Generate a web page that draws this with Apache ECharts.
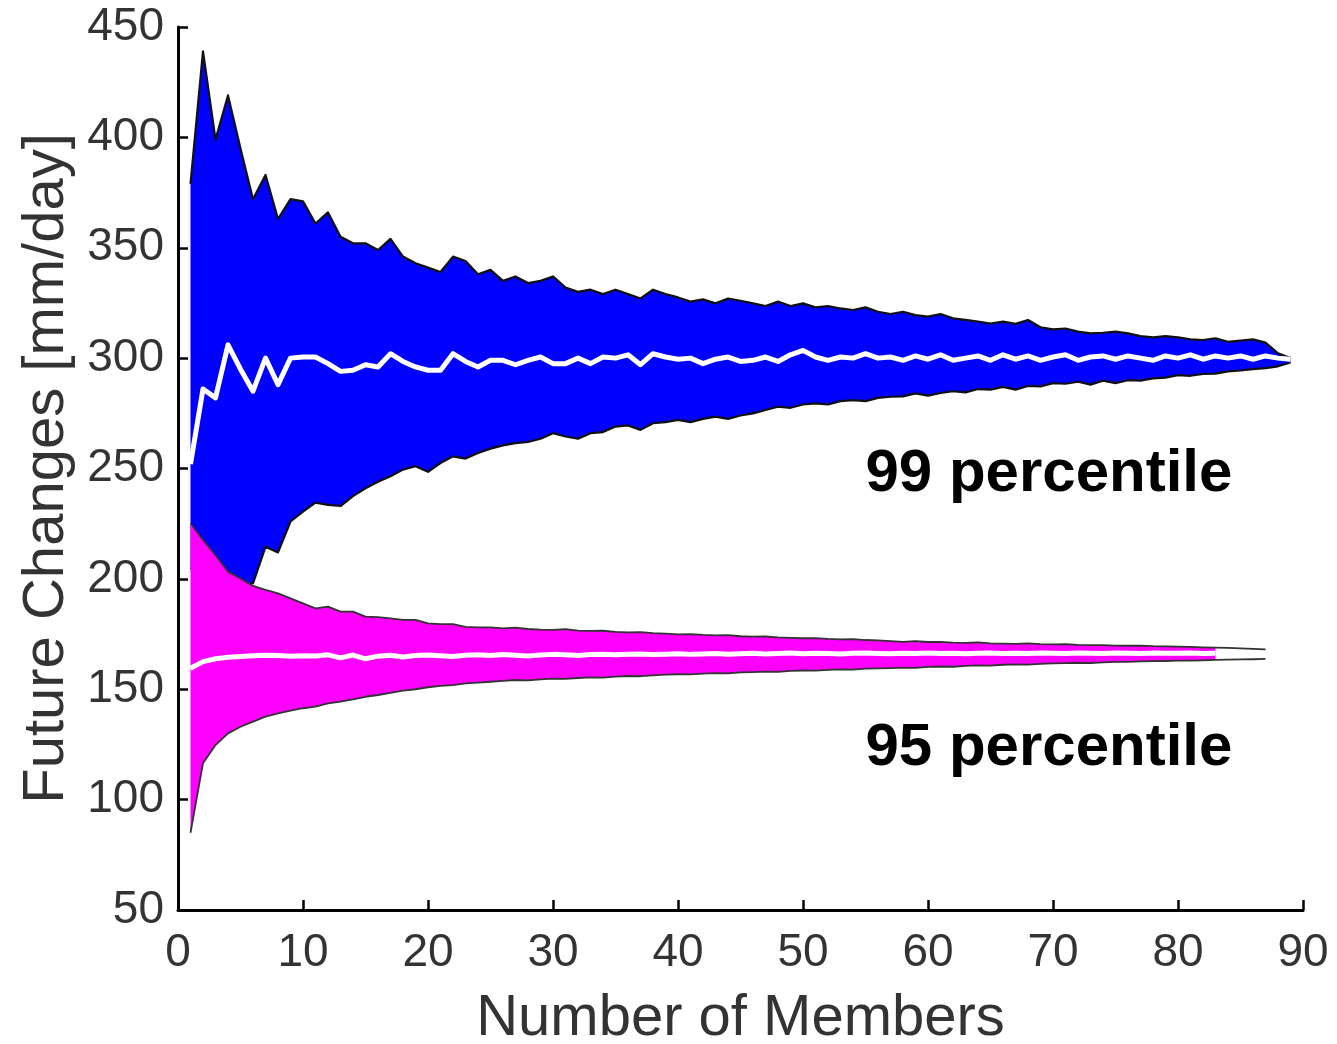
<!DOCTYPE html>
<html>
<head>
<meta charset="utf-8">
<script src="https://cdn.jsdelivr.net/npm/echarts@6/dist/echarts.min.js"></script>
<style>
  html, body { margin: 0; padding: 0; background: #fff; }
  #chart { width: 1337px; height: 1044px; }
</style>
</head>
<body>
<div id="chart"></div>
<script>
'use strict';
/* ensemble size vs. future changes, 99th and 95th percentile */

// 99 percentile band
var members99 = [1, 2, 3, 4, 5, 6, 7, 8, 9, 10, 11, 12, 13, 14, 15, 16, 17, 18, 19, 20,
  21, 22, 23, 24, 25, 26, 27, 28, 29, 30, 31, 32, 33, 34, 35, 36, 37, 38, 39, 40,
  41, 42, 43, 44, 45, 46, 47, 48, 49, 50, 51, 52, 53, 54, 55, 56, 57, 58, 59, 60,
  61, 62, 63, 64, 65, 66, 67, 68, 69, 70, 71, 72, 73, 74, 75, 76, 77, 78, 79, 80,
  81, 82, 83, 84, 85, 86, 87, 88, 89];
var upper99 = [379, 439, 399, 419, 395, 372, 383, 363, 372, 371, 361, 366, 355, 352, 352, 349, 354, 346, 343, 341,
  339, 346, 344, 338, 340, 335, 337, 334, 335, 337, 332, 330, 331, 329, 331, 329, 327, 331, 329, 327.5,
  325.6, 326.6, 324.8, 327, 326, 324.8, 323.6, 325.6, 323.6, 324.8, 323, 323.6, 322.5, 321.8, 323, 321, 320, 321, 319.5, 318.8,
  320, 318, 317.3, 316.5, 315.7, 316.5, 315.5, 317.3, 314, 313, 313.4, 312, 311.2, 311.5, 312, 311.2, 310, 309.4, 310, 309.4,
  308.5, 308.2, 309, 307.4, 307.9, 308.5, 307, 302.2, 300];
var median99 = [252, 286, 282, 306, 295, 285, 300, 288, 300, 300.5, 300.5, 297.5, 294, 294.5, 297, 296, 302, 298.5, 296, 294.5,
  294.5, 302, 298.5, 296, 299, 299, 297, 299, 300.5, 297.5, 297.5, 300, 297.5, 300.5, 300, 301.5, 297, 302, 300.5, 299.5,
  300, 297.5, 299.5, 300.5, 298.5, 299, 300.5, 298.5, 301.5, 303.5, 300.5, 299, 300.5, 300, 302, 300, 300.5, 299, 301, 299.5,
  301.5, 299, 300, 301, 299, 301.5, 299.5, 301, 299, 300.5, 301.5, 299, 300.5, 301, 299.5, 301, 300, 299, 301, 300,
  301.5, 299.5, 301, 300, 301, 299.5, 301, 300, 299.5];
var lower99 = [205, 200, 197, 195, 196, 198, 214.5, 212, 226, 230.5, 234.5, 233.5, 233, 237.5, 241, 244, 246.5, 249.5, 251, 248.5,
  252.5, 255.5, 254.5, 257, 259, 260.5, 261.5, 262, 263.5, 266, 264.5, 263.5, 266, 266.5, 269, 269.5, 267.5, 270.5, 271, 272,
  271, 272.5, 273.5, 272.5, 274, 275, 276.5, 278, 277.5, 279, 279.5, 279, 280.5, 281, 280.5, 282, 282.5, 282.7, 284, 283,
  284.2, 285, 284.5, 286, 285.7, 287, 285.7, 287.4, 287.2, 288.7, 288.4, 289.3, 288, 289.8, 288.7, 290, 289.8, 290.8, 291.2, 292.3,
  292, 292.8, 293, 294, 294.4, 295, 295.5, 296.3, 298];

// 95 percentile band
var members95 = [1, 2, 3, 4, 5, 6, 7, 8, 9, 10, 11, 12, 13, 14, 15, 16, 17, 18, 19, 20,
  21, 22, 23, 24, 25, 26, 27, 28, 29, 30, 31, 32, 33, 34, 35, 36, 37, 38, 39, 40,
  41, 42, 43, 44, 45, 46, 47, 48, 49, 50, 51, 52, 53, 54, 55, 56, 57, 58, 59, 60,
  61, 62, 63, 64, 65, 66, 67, 68, 69, 70, 71, 72, 73, 74, 75, 76, 77, 78, 79, 80,
  81, 82, 83, 84, 85, 86, 87];
var upper95 = [225.2, 217.6, 210.8, 203.3, 200.2, 196.8, 195, 193.4, 191.2, 188.9, 186.6, 187.4, 185.2, 185.2, 182.9, 182.7, 182.1, 181.4, 181.4, 179.8,
  179.5, 179.5, 178.3, 178, 178, 177.6, 177.9, 177.3, 177, 176.9, 177.2, 176.6, 176.4, 176.5, 176, 175.8, 175.9, 175.4, 175.2, 174.9,
  175, 174.6, 174.4, 174.5, 174, 173.8, 173.9, 173.5, 173.3, 173.1, 173.2, 172.8, 172.6, 172.7, 172.3, 172.1, 171.8, 171.5, 171.8, 171.4,
  171.5, 171.1, 171, 171.2, 170.8, 170.7, 170.6, 170.8, 170.4, 170.3, 170.4, 170.1, 170, 170, 169.8, 169.7, 169.8, 169.5, 169.4, 169.3,
  169.2, 169, 168.9, 168.7, 168.5, 168.3, 168.1];
var median95 = [159.5, 162.5, 163.8, 164.5, 164.8, 165.2, 165.4, 165.3, 165, 165.2, 165.1, 165.6, 164.2, 165.5, 163.8, 165, 165.4, 164.6, 165.3, 165.5,
  165.2, 164.8, 165.4, 165.6, 165.3, 165.7, 165.4, 165.1, 165.5, 165.8, 165.6, 165.3, 165.7, 165.9, 165.6, 165.8, 166, 165.7, 165.9, 166.1,
  165.8, 166, 166.2, 165.9, 166.1, 166.3, 166, 166.2, 166.4, 166.1, 166.3, 166.2, 166, 166.3, 166.4, 166.2, 166.1, 166.3, 166.2, 166.4,
  166.2, 166.3, 166.1, 166.3, 166.4, 166.2, 166.3, 166.2, 166.4, 166.3, 166.2, 166.4, 166.3, 166.2, 166.4, 166.3, 166.2, 166.4, 166.3, 166.3,
  166.4, 166.2, 166.3, 166.4, 166.3, 166.2, 166.3];
var lower95 = [85, 116.5, 124.7, 130, 133, 135.3, 137.6, 139.1, 140.3, 141.4, 142.1, 143.6, 144.4, 145.4, 146.6, 147.4, 148.4, 149.4, 150, 150.9,
  151.5, 151.9, 152.7, 153, 153.4, 153.8, 154.2, 154, 154.5, 154.8, 154.7, 155.1, 155.4, 155.3, 155.7, 156, 155.9, 156.3, 156.6, 156.8,
  156.7, 157.1, 157.3, 157.2, 157.6, 157.8, 158, 157.9, 158.3, 158.5, 158.4, 158.8, 159, 158.9, 159.3, 159.5, 159.6, 159.8, 159.7, 160.1,
  160.3, 160.2, 160.6, 160.8, 160.7, 161.1, 161.3, 161.2, 161.5, 161.7, 161.8, 162, 161.9, 162.2, 162.4, 162.4, 162.6, 162.7, 162.8, 163,
  163, 163.1, 163.3, 163.4, 163.5, 163.6, 163.8];

var xTicks = [0, 10, 20, 30, 40, 50, 60, 70, 80, 90];
var yTicks = [50, 100, 150, 200, 250, 300, 350, 400, 450];

var fontFamily = '"Liberation Sans", Arial, Helvetica, sans-serif';

function pairs(xs, ys, last) {
  var out = [];
  for (var i = 0; i < xs.length; i++) {
    if (last != null && xs[i] > last) break;
    out.push([xs[i], ys[i]]);
  }
  return out;
}

// filled band between lower and upper, drawn once as one polygon
function band(xs, lo, hi, color, z, last) {
  return {
    type: 'custom',
    z: z,
    silent: true,
    clip: false,
    data: pairs(xs, lo, last),
    encode: { x: 0, y: 1 },
    renderItem: function(params, api) {
      if (params.dataIndex !== 0) return;
      var pts = [];
      for (var i = 0; i < xs.length; i++) {
        if (last != null && xs[i] > last) break;
        pts.push(api.coord([xs[i], hi[i]]));
      }
      for (var j = pts.length - 1; j >= 0; j--) {
        pts.push(api.coord([xs[j], lo[j]]));
      }
      return {
        type: 'polygon',
        shape: { points: pts },
        style: { fill: color }
      };
    }
  };
}

function line(xs, ys, color, width, z, last) {
  return {
    type: 'line',
    z: z,
    silent: true,
    symbol: 'none',
    animation: false,
    data: pairs(xs, ys, last),
    lineStyle: { color: color, width: width, join: 'round' }
  };
}

var chart = echarts.init(document.getElementById('chart'));

var option = {
  animation: false,
  backgroundColor: '#fff',
  grid: { left: 178, right: 34, top: 27, bottom: 134, outerBoundsMode: 'none', containLabel: false },
  xAxis: {
    type: 'value',
    min: xTicks[0],
    max: xTicks[xTicks.length - 1],
    interval: 10,
    z: 10,
    name: 'Number of Members',
    nameLocation: 'middle',
    nameGap: 80,
    nameTextStyle: { fontSize: 58, color: '#333', fontFamily: fontFamily },
    axisLine: { onZero: false, lineStyle: { color: '#000', width: 3 } },
    axisTick: { inside: true, length: 10, lineStyle: { color: '#000', width: 2.5 } },
    axisLabel: { fontSize: 46, color: '#333', margin: 20, fontFamily: fontFamily },
    splitLine: { show: false }
  },
  yAxis: {
    type: 'value',
    min: yTicks[0],
    max: yTicks[yTicks.length - 1],
    interval: 50,
    z: 10,
    name: 'Future Changes [mm/day]',
    nameLocation: 'middle',
    nameGap: 100,
    nameTextStyle: { fontSize: 58, color: '#333', fontFamily: fontFamily },
    axisLine: { onZero: false, lineStyle: { color: '#000', width: 3 } },
    axisTick: { inside: true, length: 10, lineStyle: { color: '#000', width: 2.5 } },
    axisLabel: { fontSize: 46, color: '#333', margin: 14, fontFamily: fontFamily },
    splitLine: { show: false }
  },
  series: [
    band(members99, lower99, upper99, '#0000ff', 2),
    line(members99, upper99, '#111', 2.2, 3),
    line(members99, lower99, '#111', 2.2, 3),
    line(members99, median99, '#fff', 5, 4),
    band(members95, lower95, upper95, '#ff00ff', 5, 83),
    line(members95, upper95, '#333', 1.8, 6),
    line(members95, lower95, '#333', 1.8, 6),
    line(members95, median95, '#fff', 5, 7, 83)
  ]
};

chart.setOption(option);

/* percentile labels, placed in data coordinates */
var p99 = chart.convertToPixel({ gridIndex: 0 }, [55, 247.5]);
var p95 = chart.convertToPixel({ gridIndex: 0 }, [55, 123]);
chart.setOption({
  graphic: [{
    type: 'text',
    x: p99[0],
    y: p99[1],
    z: 20,
    style: { text: '99 percentile', font: 'bold 60px ' + fontFamily, fill: '#000', align: 'left', verticalAlign: 'middle' }
  }, {
    type: 'text',
    x: p95[0],
    y: p95[1],
    z: 20,
    style: { text: '95 percentile', font: 'bold 60px ' + fontFamily, fill: '#000', align: 'left', verticalAlign: 'middle' }
  }]
});
</script>
</body>
</html>
